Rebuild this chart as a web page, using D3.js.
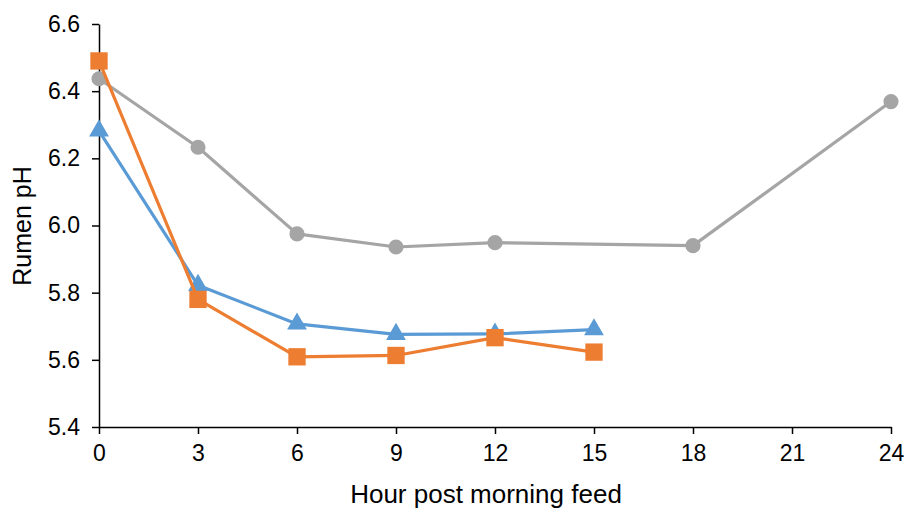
<!DOCTYPE html>
<html>
<head>
<meta charset="utf-8">
<script src="https://cdn.jsdelivr.net/npm/d3@7"></script>
<style>
  html, body { margin: 0; padding: 0; background: #fff; }
  svg { display: block; }
  text { font-family: "Liberation Sans", Arial, sans-serif; fill: #000; }
</style>
</head>
<body>
<svg id="chart" width="909" height="511"></svg>
<script>
// Sampling times (hours after the morning feed)
const xTicks = [0, 3, 6, 9, 12, 15, 18, 21, 24];
const yTicks = [5.4, 5.6, 5.8, 6.0, 6.2, 6.4, 6.6];

// Rumen pH per treatment
const grayHours   = [0, 3, 6, 9, 12, 18, 24];
const grayValues  = [6.437, 6.233, 5.975, 5.936, 5.949, 5.940, 6.369];
const orangeHours  = [0, 3, 6, 9, 12, 15];
const orangeValues = [6.49, 5.78, 5.609, 5.613, 5.666, 5.623];
const blueHours   = [0, 3, 6, 9, 12, 15];
const blueValues  = [6.282, 5.822, 5.707, 5.676, 5.677, 5.69];

const svg = d3.select("#chart");
const x = d3.scaleLinear().domain([0, 24]).range([99, 891]);
const y = d3.scaleLinear().domain([5.4, 6.6]).range([427, 24]);

// Axes
const xAxis = svg.append("g")
  .attr("transform", `translate(0,${y(5.4)})`)
  .call(d3.axisBottom(x).tickValues(xTicks).tickSize(7).tickSizeOuter(0).tickPadding(11).tickFormat(d3.format("d")));
const yAxis = svg.append("g")
  .attr("transform", `translate(${x(0)},0)`)
  .call(d3.axisLeft(y).tickValues(yTicks).tickSize(7).tickSizeOuter(0).tickPadding(12).tickFormat(d3.format(".1f")));

[xAxis, yAxis].forEach(g => {
  g.select(".domain").attr("stroke", "#000").attr("stroke-width", 1.5);
  g.selectAll(".tick line").attr("stroke", "#000").attr("stroke-width", 1.5);
  g.selectAll(".tick text")
    .style("font-family", '"Liberation Sans", Arial, sans-serif')
    .style("font-size", "23px").attr("fill", "#000");
});

// Axis titles
svg.append("text")
  .attr("x", 486).attr("y", 503)
  .attr("text-anchor", "middle")
  .style("font-size", "26px")
  .text("Hour post morning feed");
svg.append("text")
  .attr("transform", "translate(31,226) rotate(-90)")
  .attr("text-anchor", "middle")
  .style("font-size", "25px")
  .text("Rumen pH");

const line = d3.line().x(d => x(d[0])).y(d => y(d[1]));

function series(hs, vs, color, shape) {
  const pts = hs.map((h, i) => [h, vs[i]]);
  svg.append("path").datum(pts)
    .attr("fill", "none").attr("stroke", color)
    .attr("stroke-width", 3.2).attr("stroke-linejoin", "round")
    .attr("d", line);
  svg.append("g").selectAll("path").data(pts).join("path")
    .attr("transform", d => `translate(${x(d[0])},${y(d[1])})`)
    .attr("d", d3.symbol().type(shape.type).size(shape.size)())
    .attr("fill", color);
}

series(grayHours, grayValues, "#A5A5A5", { type: d3.symbolCircle, size: 180 });
series(blueHours, blueValues, "#5B9BD5", { type: d3.symbolTriangle, size: 170 });
series(orangeHours, orangeValues, "#ED7D31", { type: d3.symbolSquare, size: 300 });
</script>
</body>
</html>
